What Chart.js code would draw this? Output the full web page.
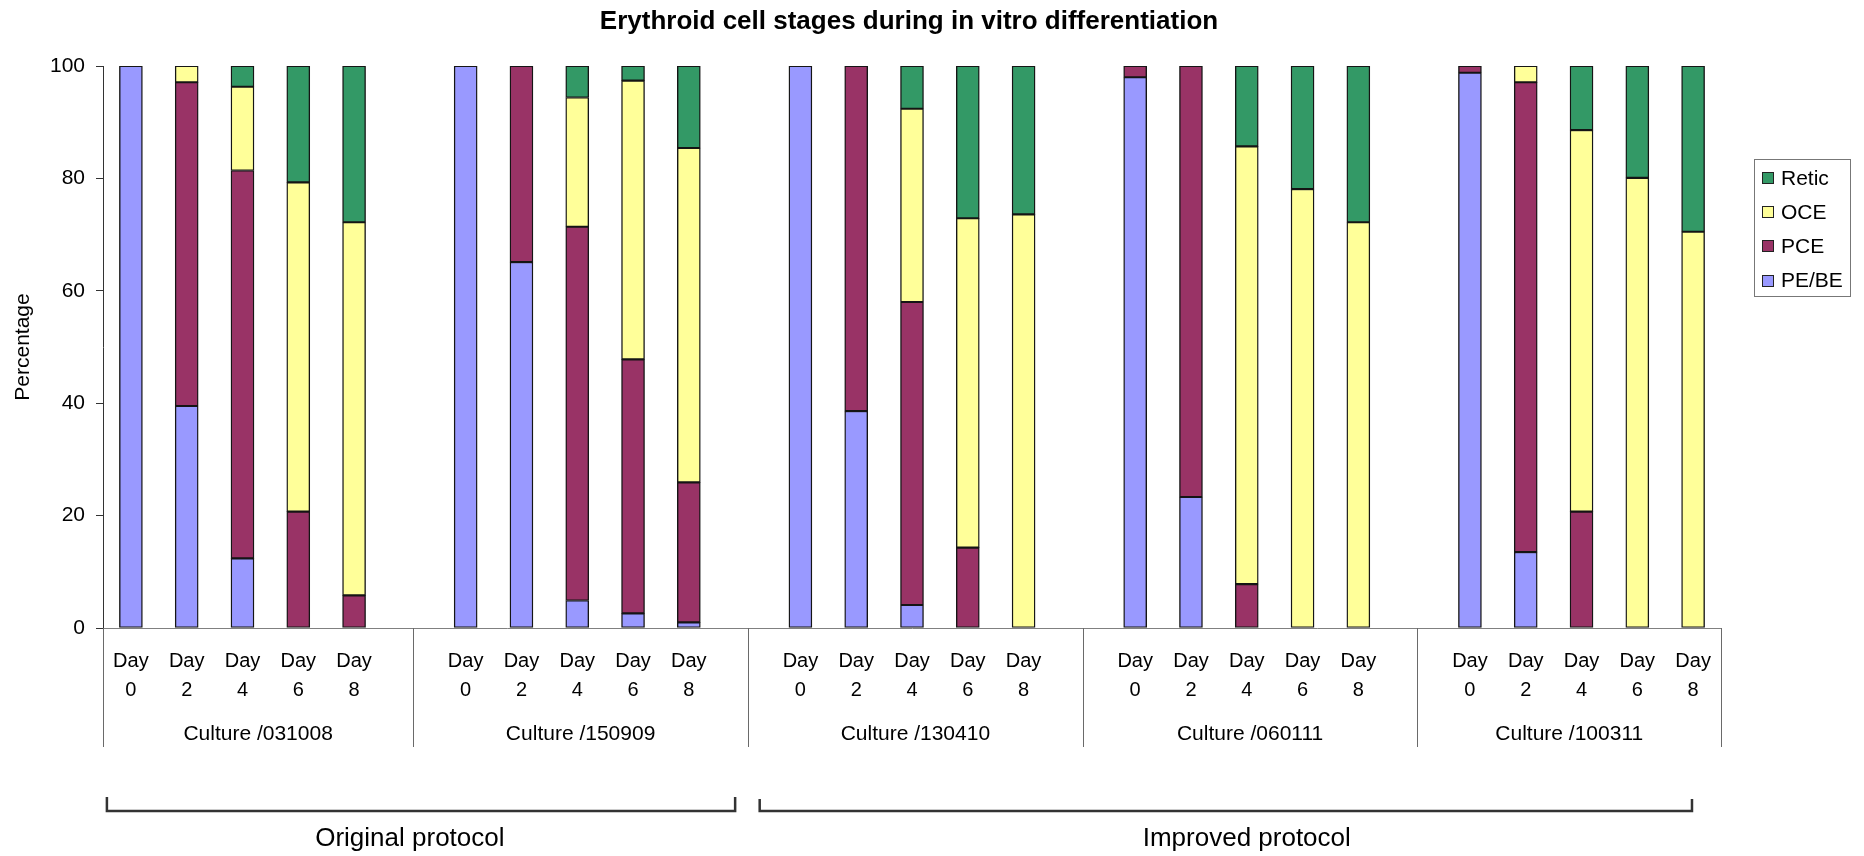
<!DOCTYPE html>
<html><head><meta charset="utf-8">
<script src="https://cdn.jsdelivr.net/npm/chart.js@4.4.1/dist/chart.umd.min.js"></script>
<style>html,body{margin:0;padding:0;background:#fff;}canvas{display:block;}</style>
</head><body>
<canvas id="c" width="1864" height="856"></canvas>
<script>
const chartTitle = 'Erythroid cell stages during in vitro differentiation';
const yAxisTitle = 'Percentage';
const cultures = ['Culture /031008', 'Culture /150909', 'Culture /130410', 'Culture /060111', 'Culture /100311'];
const days = ['0', '2', '4', '6', '8'];
const protocols = ['Original protocol', 'Improved protocol'];
const seriesNames = ['PE/BE', 'PCE', 'OCE', 'Retic'];
const seriesColors = ['#9999FF', '#993366', '#FFFF99', '#339966'];
const yTicks = [0, 20, 40, 60, 80, 100];

// values per culture, Day 0..8 (5 cultures x 5 days)
const peBe = [100, 39.5, 12.4, 0, 0,
              100, 65.1, 4.9, 2.6, 1.0,
              100, 38.6, 4.1, 0, 0,
              98.0, 23.3, 0, 0, 0,
              98.8, 13.5, 0, 0, 0];
const pce = [0, 57.6, 69.0, 20.7, 5.8,
             0, 34.9, 66.5, 45.2, 24.9,
             0, 61.4, 53.9, 14.3, 0,
             2.0, 76.7, 7.8, 0, 0,
             1.2, 83.6, 20.7, 0, 0];
const oce = [0, 2.9, 14.9, 58.6, 66.4,
             0, 0, 23.0, 49.6, 59.5,
             0, 0, 34.4, 58.6, 73.6,
             0, 0, 77.9, 78.1, 72.2,
             0, 2.9, 67.9, 80.1, 70.5];
const retic = [0, 0, 3.7, 20.7, 27.8,
               0, 0, 5.6, 2.6, 14.6,
               0, 0, 7.6, 27.1, 26.4,
               0, 0, 14.3, 21.9, 27.8,
               0, 0, 11.4, 19.9, 29.5];

// category slots: 5 days per culture, followed by one empty slot
const slotsPerGroup = days.length + 1;
const slots = [];
const slotLabel = {};
cultures.forEach((c, g) => days.forEach((d, i) => {
  const s = g * slotsPerGroup + i;
  slots.push(s);
  slotLabel[s] = ['Day', d];
}));

const seriesValues = [peBe, pce, oce, retic];
const datasets = seriesNames.map((name, k) => ({
  label: name,
  data: seriesValues[k].map((v, i) => ({ x: slots[i], y: v })),
  backgroundColor: seriesColors[k],
  borderColor: '#151515',
  borderWidth: 1.4,
  borderSkipped: false,
  barThickness: 23
}));

const FONT = '"Liberation Sans", Arial, sans-serif';
const xMin = -0.5;
const xMax = cultures.length * slotsPerGroup - 1.5;

const decor = {
  id: 'decor',
  afterDraw(chart) {
    const ctx = chart.ctx, xs = chart.scales.x, area = chart.chartArea;
    const px = v => xs.getPixelForValue(v);
    ctx.save();
    // title
    ctx.fillStyle = '#000';
    ctx.font = 'bold 26px ' + FONT;
    ctx.textAlign = 'center';
    ctx.textBaseline = 'middle';
    ctx.fillText(chartTitle, 909, 22);

    // group separators
    const bounds = [xMin];
    for (let g = 1; g < cultures.length; g++) bounds.push(g * slotsPerGroup - 0.94);
    bounds.push(xMax);
    ctx.strokeStyle = '#6a6a6a';
    ctx.lineWidth = 1;
    bounds.forEach(b => {
      const x = Math.round(px(b)) + 0.5;
      ctx.beginPath(); ctx.moveTo(x, area.bottom); ctx.lineTo(x, 747); ctx.stroke();
    });
    // culture labels
    ctx.font = '21px ' + FONT;
    cultures.forEach((c, g) => {
      ctx.fillText(c, (px(bounds[g]) + px(bounds[g + 1])) / 2, 734);
    });

    // protocol brackets
    const brackets = [[-0.43, 10.83, 797], [11.27, 27.98, 799]];
    ctx.strokeStyle = '#333';
    ctx.lineWidth = 2.5;
    brackets.forEach(([a, b, top]) => {
      ctx.beginPath();
      ctx.moveTo(px(a), top); ctx.lineTo(px(a), 811); ctx.lineTo(px(b), 811); ctx.lineTo(px(b), top);
      ctx.stroke();
    });
    ctx.font = '26px ' + FONT;
    ctx.fillText(protocols[0], px(5.0), 839);
    ctx.fillText(protocols[1], px(20.0), 839);

    // legend
    const lx = 1754.5, ly = 159.5, lw = 96, lh = 137;
    ctx.fillStyle = '#fff';
    ctx.fillRect(lx, ly, lw, lh);
    ctx.strokeStyle = '#777';
    ctx.lineWidth = 1;
    ctx.strokeRect(lx, ly, lw, lh);
    ctx.font = '21px ' + FONT;
    ctx.textAlign = 'left';
    const items = chart.data.datasets.slice().reverse();
    items.forEach((ds, i) => {
      const cy = 178 + i * 34.2;
      ctx.fillStyle = ds.backgroundColor;
      ctx.fillRect(1762, Math.round(cy - 6), 12, 12);
      ctx.strokeStyle = '#222';
      ctx.strokeRect(1762.5, Math.round(cy - 6) + 0.5, 11, 11);
      ctx.fillStyle = '#000';
      ctx.fillText(ds.label, 1781, cy + 1);
    });
    ctx.restore();
  }
};

new Chart(document.getElementById('c'), {
  type: 'bar',
  data: { datasets },
  plugins: [decor],
  options: {
    responsive: false,
    animation: false,
    devicePixelRatio: 1,
    layout: { padding: { top: 66, right: 1864 - 1721, bottom: 0, left: 0 } },
    plugins: { legend: { display: false }, title: { display: false }, tooltip: { enabled: false } },
    scales: {
      x: {
        type: 'linear',
        stacked: true,
        offset: false,
        min: xMin,
        max: xMax,
        grid: { display: false, drawTicks: false },
        border: { display: true, color: '#808080', width: 1 },
        afterBuildTicks: s => { s.ticks = slots.map(v => ({ value: v })); },
        afterFit: s => { s.height = 856 - 628; },
        ticks: {
          autoSkip: false,
          maxRotation: 0,
          minRotation: 0,
          padding: 19.5,
          color: '#000',
          font: { family: FONT, size: 20, lineHeight: 1.42 },
          callback: v => slotLabel[v] || ''
        }
      },
      y: {
        stacked: true,
        min: 0,
        max: 100,
        afterBuildTicks: s => { s.ticks = yTicks.map(v => ({ value: v })); },
        afterFit: s => { s.width = 103; },
        grid: { display: true, drawOnChartArea: false, drawTicks: true, tickLength: 7, tickColor: '#333' },
        border: { display: true, color: '#333', width: 1 },
        ticks: { padding: 11, color: '#000', font: { family: FONT, size: 21 } },
        title: { display: true, text: yAxisTitle, color: '#000', font: { family: FONT, size: 21 }, padding: { top: 10.7, bottom: 0 } }
      }
    }
  }
});
</script>
</body></html>
